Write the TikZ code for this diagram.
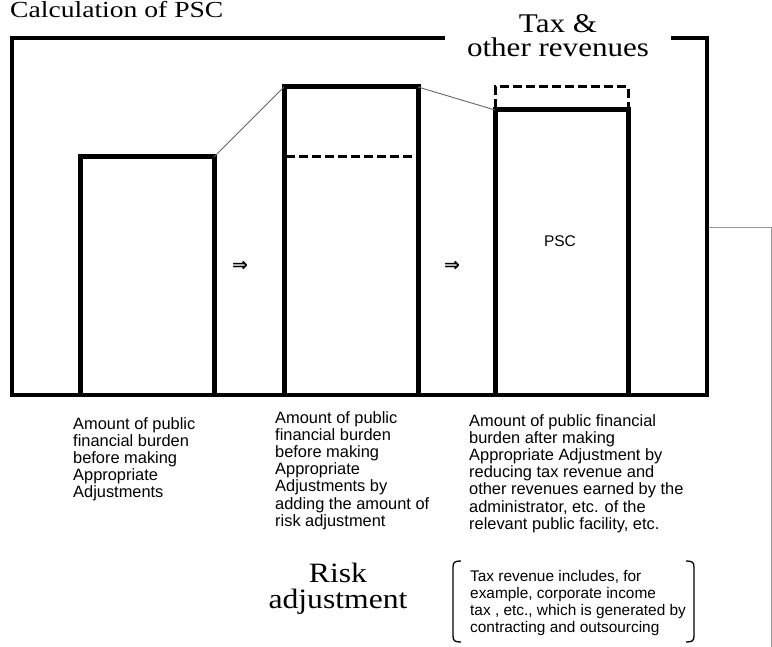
\documentclass[tikz,border=0pt]{standalone}
\usepackage{fontspec}
\setmainfont{Liberation Serif}
\newfontfamily\smallsans{Liberation Sans}
\newfontfamily\symfont{DejaVu Sans}
\begin{document}
\begin{tikzpicture}[x=1pt,y=-1pt,
  frame/.style={line width=4.5pt, line cap=rect},
  bar/.style={line width=5pt},
  dashline/.style={line width=3pt, dash pattern=on 9pt off 4pt},
  thinlink/.style={line width=0.9pt, draw=black!60},
  sidelink/.style={line width=1pt, draw=black!40},
  biglabel/.style={inner sep=0pt, anchor=north, align=center},
  blocktext/.style={font=\smallsans\fontsize{16.4}{17.2}\selectfont, align=left, anchor=north west, inner sep=0pt},
  notetext/.style={font=\smallsans\fontsize{15.4}{17.2}\selectfont, align=left, anchor=north west, inner sep=0pt},
  arrowsym/.style={font=\symfont\bfseries\fontsize{19}{19}\selectfont, inner sep=0pt}
]
\useasboundingbox (0,0) rectangle (772,647);

% title
\node[font=\fontsize{23}{23}\selectfont, anchor=base west, inner sep=0pt] (title) at (10,18) {\scalebox{1.2}[1]{Calculation of PSC}};

% frame
\draw[frame] (443,38) -- (12,38) -- (12,395) -- (707,395) -- (707,38) -- (673,38);

% bar corners
\coordinate (b1tl) at (80,157);
\coordinate (b1tr) at (214,157);
\coordinate (b2tl) at (284,87);
\coordinate (b2tr) at (418,87);
\coordinate (b3tl) at (495,110);
\coordinate (b3tr) at (628,110);

% bars
\draw[bar] (80,395) -- (b1tl) -- (b1tr) -- (214,395);
\draw[bar] (284,395) -- (b2tl) -- (b2tr) -- (418,395);
\draw[dashline] (286,157) -- (416,157);
\draw[bar] (495,395) -- (b3tl) -- (b3tr) -- (628,395);
\draw[dashline] (495,108) -- (495,87) -- (628,87) -- (628,108);

% connecting lines
\draw[thinlink] (b1tr) -- (b2tl);
\draw[thinlink] (b2tr) -- (b3tl);

% side lines
\coordinate (sideA) at (709,228);
\coordinate (sideB) at (771,228);
\coordinate (sideC) at (771,647);
\draw[sidelink] (sideA) -- (sideB) -- (sideC);

% arrows and PSC
\node[arrowsym] (arr1) at (240,266) {⇒};
\node[arrowsym] (arr2) at (452,266) {⇒};
\node[font=\smallsans\fontsize{15.5}{15.5}\selectfont, inner sep=0pt] (psc) at (560,241) {PSC};

% big labels
\node[biglabel, font=\fontsize{27}{24}\selectfont] (tax) at (558,14) {\scalebox{1.15}[1]{Tax \&}\\\scalebox{1.15}[1]{other revenues}};
\node[biglabel, font=\fontsize{28}{26}\selectfont] (risk) at (338,563) {\scalebox{1.13}[1]{Risk}\\\scalebox{1.13}[1]{adjustment}};

% text blocks
\node[blocktext] (t1) at (73,417) {Amount of public\\financial burden\\before making\\Appropriate\\Adjustments};
\node[blocktext] (t2) at (275,411) {Amount of public\\financial burden\\before making\\Appropriate\\Adjustments by\\adding the amount of\\risk adjustment};
\node[blocktext] (t3) at (469,414) {Amount of public financial\\burden after making\\Appropriate Adjustment by\\reducing tax revenue and\\other revenues earned by the\\administrator, etc. of the\\relevant public facility, etc.};

% bracketed note
\node[notetext] (note) at (470,570) {Tax revenue includes, for\\example, corporate income\\tax , etc., which is generated by\\contracting and outsourcing};
\draw[line width=1.3pt] (461,561) .. controls (455,561) and (453,562) .. (453,567) -- (453,636) .. controls (453,641) and (455,642) .. (461,642);
\draw[line width=1.3pt] (686,561) .. controls (692,561) and (694,562) .. (694,567) -- (694,636) .. controls (694,641) and (692,642) .. (686,642);
\end{tikzpicture}
\end{document}
